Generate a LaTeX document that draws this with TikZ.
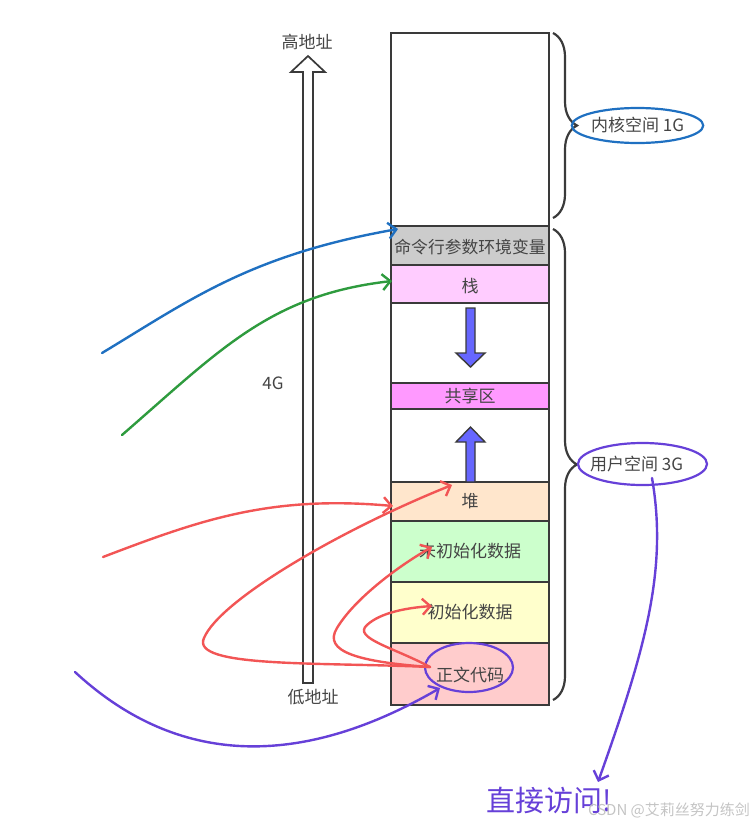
\documentclass[tikz,border=0pt]{standalone}
\usepackage{fontspec}
\setmainfont{Noto Sans CJK SC}
\usetikzlibrary{arrows.meta,decorations.pathreplacing,shapes.geometric}
\definecolor{ink}{HTML}{444444}
\definecolor{edge}{HTML}{3a3a3a}
\definecolor{cmdgray}{HTML}{CCCCCC}
\definecolor{stackpink}{HTML}{FFCCFF}
\definecolor{sharepink}{HTML}{FF99FF}
\definecolor{heapc}{HTML}{FFE6CC}
\definecolor{bssc}{HTML}{CCFFCC}
\definecolor{datac}{HTML}{FFFFCC}
\definecolor{textc}{HTML}{FFCCCC}
\definecolor{arrowblue}{HTML}{6666FF}
\definecolor{cblue}{HTML}{1F70C1}
\definecolor{cgreen}{HTML}{2E9B3E}
\definecolor{cred}{HTML}{F25555}
\definecolor{cpurple}{HTML}{6640D8}
\definecolor{wm}{HTML}{C4C4C4}
\tikzset{
  seg/.style={draw=edge,line width=1.7pt,minimum width=158pt,inner sep=0pt,
    font=\fontsize{17}{17}\selectfont,text=ink},
  lbl/.style={font=\fontsize{17}{17}\selectfont,text=ink,inner sep=0pt},
  tipv/.style={-{Straight Barb[length=8pt,width=16pt]}},
  curve/.style={line width=2.4pt,line cap=round,tipv},
  brc/.style={draw=edge,line width=2.2pt,decorate,decoration={brace,amplitude=24pt,aspect=0.5}},
  blk/.style={draw=edge,line width=1.4pt,fill=arrowblue,line join=miter},
  ring/.style={ellipse,line width=2.2pt,inner sep=0pt}
}
\begin{document}
\begin{tikzpicture}[x=1pt,y=-1pt]
\useasboundingbox (0,0) rectangle (755,825);
% memory column
\node[seg,minimum height=193pt] (kernel) at (470,129.5) {};
\node[seg,fill=cmdgray,minimum height=39pt,text height=18pt,text depth=3pt] (cmd) at (470,245.5) {\makebox[150pt][c]{\fontsize{16.8}{16.8}\selectfont 命令行参数环境变量}};
\node[seg,fill=stackpink,minimum height=38pt,text height=20pt,text depth=3pt] (stack) at (470,284) {栈};
\node[seg,minimum height=80pt] (gapa) at (470,343) {};
\node[seg,fill=sharepink,minimum height=26pt] (share) at (470,396) {共享区};
\node[seg,minimum height=73pt] (gapb) at (470,445.5) {};
\node[seg,fill=heapc,minimum height=39pt] (heap) at (470,501.5) {堆};
\node[seg,fill=bssc,minimum height=61pt] (bss) at (470,551.5) {未初始化数据};
\node[seg,fill=datac,minimum height=61pt] (data) at (470,612.5) {初始化数据};
\node[seg,fill=textc,minimum height=62pt,text height=17pt,text depth=3pt] (code) at (470,674) {正文代码};
% block arrows
\draw[blk] (466,308) -- (475,308) -- (475,353) -- (485,353) -- (470.5,367) -- (456,353) -- (466,353) -- cycle;
\draw[blk] (466,482) -- (466,442) -- (456,442) -- (470.5,427) -- (485,442) -- (475,442) -- (475,482) -- cycle;
% address arrow
\draw[draw=edge,line width=1.7pt,fill=white,line join=miter] (303,683) -- (303,72) -- (291,72) -- (308,56) -- (325,72) -- (313,72) -- (313,683) -- cycle;
\node[lbl] (hi) at (307,42) {高地址};
\node[lbl] (lo) at (313,697) {低地址};
\node[lbl] (four) at (273,383) {4G};
% braces
\draw[brc] (553,33) -- (553,218);
\draw[brc] (553,229) -- (553,700);
% ellipses
\node[ring,draw=cblue,minimum width=119pt,minimum height=35pt,lbl] (kring) at (637.5,125.5) {内核空间 1G};
\node[ring,draw=cpurple,minimum width=129pt,minimum height=42pt,lbl] (uring) at (642.5,464) {\hspace*{-12pt}用户空间 3G};
\node[ring,draw=cpurple,minimum width=88pt,minimum height=49pt] (codering) at (469,667.5) {};
% coordinates
\coordinate (bStart) at (102,353);
\coordinate (gStart) at (122,435);
\coordinate (rStart) at (103,557);
\coordinate (pStart) at (75,672);
\coordinate (cmdTip) at (398,229);
\coordinate (stackTip) at (392,281);
\coordinate (heapTipL) at (393,506);
\coordinate (heapTip) at (452,485);
\coordinate (bssTip) at (432,547);
\coordinate (dataTip) at (432,606);
\coordinate (codeTip) at (440,688);
\coordinate (codeL) at (430,667);
\coordinate (uBottom) at (652,478);
% curves
\draw[curve,draw=cblue] (bStart) .. controls (190,300) and (250,255) .. (cmdTip);
\draw[curve,draw=cgreen] (gStart) .. controls (220,350) and (270,295) .. (stackTip);
\draw[curve,draw=cred] (rStart) .. controls (200,520) and (270,495) .. (heapTipL);
\draw[curve,draw=cred] (codeL) .. controls (320,662) and (190,668) .. (204,638) .. controls (220,600) and (340,530) .. (heapTip);
\draw[curve,draw=cred] (codeL) .. controls (360,662) and (322,652) .. (337,628) .. controls (355,598) and (400,565) .. (bssTip);
\draw[curve,draw=cred] (codeL) .. controls (395,648) and (352,638) .. (367,625) .. controls (380,613) and (405,608) .. (dataTip);
\draw[curve,draw=cpurple] (pStart) .. controls (170,760) and (290,775) .. (codeTip);
\draw[curve,draw=cpurple] (uBottom) .. controls (668,570) and (645,650) .. (598,782) node[pos=1,anchor=north,font=\fontsize{29}{29}\selectfont,text=cpurple,inner sep=0pt,yshift=-4pt,xshift=-49pt] (direct) {直接访问!};
\node[font=\fontsize{15}{15}\selectfont,text=wm,inner sep=0pt] (mark) at (669,810) {CSDN @艾莉丝努力练剑};
\end{tikzpicture}
\end{document}
